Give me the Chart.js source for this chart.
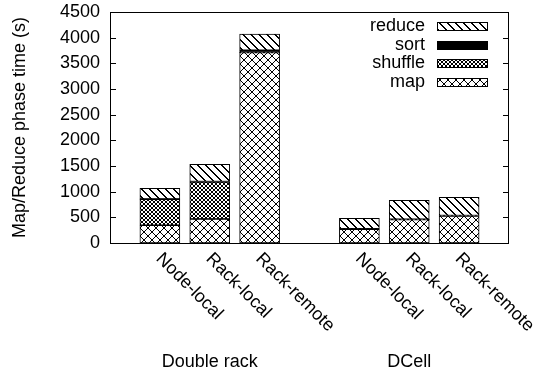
<!DOCTYPE html>
<html><head><meta charset="utf-8">
<script src="https://cdn.jsdelivr.net/npm/chart.js@4.4.0/dist/chart.umd.min.js"></script>
<style>html,body{margin:0;padding:0;background:#fff}</style>
</head><body>
<canvas id="c" width="550" height="378"></canvas>
<script>
// ---- data ----
const categories = ['', 'Node-local', 'Rack-local', 'Rack-remote', '', 'Node-local', 'Rack-local', 'Rack-remote', ''];
const groupLabels = ['Double rack', 'DCell'];
const groupCenterIndex = [2, 6];
const mapTime     = [null, 345, 467, 3710, null, 267, 454, 526, null];
const shuffleTime = [null, 506, 721,    5, null,   5,   5,   5, null];
const sortTime    = [null,  10,  10,   40, null,   5,   5,   5, null];
const reduceTime  = [null, 205, 335,  316, null, 204, 368, 354, null];
const seriesNames = ['map', 'shuffle', 'sort', 'reduce'];
const yMin = 0, yMax = 4500, yStep = 500;
const yTitle = 'Map/Reduce phase time (s)';

// ---- style ----
const FONT = "'Liberation Sans', Arial, Helvetica, sans-serif";
const FS = 18;
const canvas = document.getElementById('c');
const mainCtx = canvas.getContext('2d');

function makePattern(size, pixels) {
  const cv = document.createElement('canvas');
  cv.width = size; cv.height = size;
  const c = cv.getContext('2d');
  c.fillStyle = '#fff'; c.fillRect(0, 0, size, size);
  c.fillStyle = '#000';
  pixels(c, size);
  return mainCtx.createPattern(cv, 'repeat');
}
const patMap = makePattern(8, (c, n) => {
  for (let i = 0; i < n; i++) { c.fillRect(i, i, 1, 1); c.fillRect(n - 1 - i, i, 1, 1); }
});
const patShuffle = makePattern(4, (c, n) => {
  for (let i = 0; i < n; i++) { c.fillRect(i, i, 1, 1); c.fillRect(n - 1 - i, i, 1, 1); }
});
const patReduce = makePattern(8, (c, n) => {
  for (let i = 0; i < n; i++) { c.fillRect(i, i, 1, 1); c.fillRect((i + 1) % n, i, 1, 1); }
});
const fills = [patMap, patShuffle, '#000', patReduce];
const seriesData = [mapTime, shuffleTime, sortTime, reduceTime];

const datasets = seriesNames.map((name, k) => ({
  label: name,
  data: seriesData[k],
  backgroundColor: fills[k],
  borderColor: '#000',
  borderWidth: 1,
  borderSkipped: false,
  barThickness: 40
}));

const decor = {
  id: 'decor',
  afterDraw(chart) {
    const { ctx, chartArea: a, scales: { x, y } } = chart;
    ctx.save();
    ctx.strokeStyle = '#000';
    ctx.lineWidth = 1;
    ctx.strokeRect(Math.round(a.left) + 0.5, Math.round(a.top) + 0.5,
                   Math.round(a.right - a.left) - 1, Math.round(a.bottom - a.top));
    // inward tick marks
    ctx.beginPath();
    y.ticks.forEach(t => {
      const py = Math.round(y.getPixelForValue(t.value)) + 0.5;
      ctx.moveTo(a.left, py); ctx.lineTo(a.left + 6, py);
      ctx.moveTo(a.right, py); ctx.lineTo(a.right - 6, py);
    });
    ctx.stroke();

    ctx.fillStyle = '#000';
    ctx.font = FS + 'px ' + FONT;
    // rotated category labels
    categories.forEach((lab, i) => {
      if (!lab) return;
      const px = x.getPixelForValue(i);
      ctx.save();
      ctx.translate(px - 1, a.bottom + 13);
      ctx.rotate(Math.PI / 4);
      ctx.textAlign = 'left';
      ctx.textBaseline = 'middle';
      ctx.fillText(lab, 0, 0);
      ctx.restore();
    });
    // group labels
    groupLabels.forEach((lab, g) => {
      const px = x.getPixelForValue(groupCenterIndex[g]);
      ctx.textAlign = 'center';
      ctx.textBaseline = 'middle';
      ctx.fillText(lab, px, 362);
    });
    // legend (reverse stack order)
    const order = [3, 2, 1, 0];
    order.forEach((k, r) => {
      const cy = a.top + 14 + r * 18.7;
      ctx.textAlign = 'right';
      ctx.textBaseline = 'middle';
      ctx.fillStyle = '#000';
      ctx.fillText(seriesNames[k], a.right - 84, cy);
      const bx = Math.round(a.right - 72) + 0.5, by = Math.round(cy - 4) + 0.5;
      ctx.fillStyle = fills[k];
      ctx.fillRect(bx, by, 50, 8);
      ctx.strokeStyle = '#000';
      ctx.strokeRect(bx, by, 50, 8);
      ctx.fillStyle = '#000';
    });
    ctx.restore();
  }
};

Chart.defaults.color = '#000';
Chart.defaults.font.family = FONT;

new Chart(canvas, {
  type: 'bar',
  data: { labels: categories, datasets },
  options: {
    responsive: false,
    animation: false,
    devicePixelRatio: 1,
    layout: { padding: { top: 12, right: 41, left: 0, bottom: 0 } },
    plugins: { legend: { display: false }, tooltip: { enabled: false } },
    scales: {
      x: {
        type: 'category',
        stacked: true,
        offset: false,
        grid: { display: false },
        border: { display: false },
        ticks: { display: false },
        afterFit(s) { s.height = 135; s.paddingLeft = 0; s.paddingRight = 0; }
      },
      y: {
        stacked: true,
        min: yMin, max: yMax,
        grid: { display: false, drawTicks: false },
        border: { display: false },
        ticks: { stepSize: yStep, padding: 10, font: { size: FS }, color: '#000', callback: v => String(v) },
        title: { display: true, text: yTitle, font: { size: FS }, color: '#000', padding: { top: 9, bottom: 0 } },
        afterFit(s) { s.width = 110; s.paddingTop = 0; s.paddingBottom = 0; }
      }
    }
  },
  plugins: [decor]
});
</script>
</body></html>
